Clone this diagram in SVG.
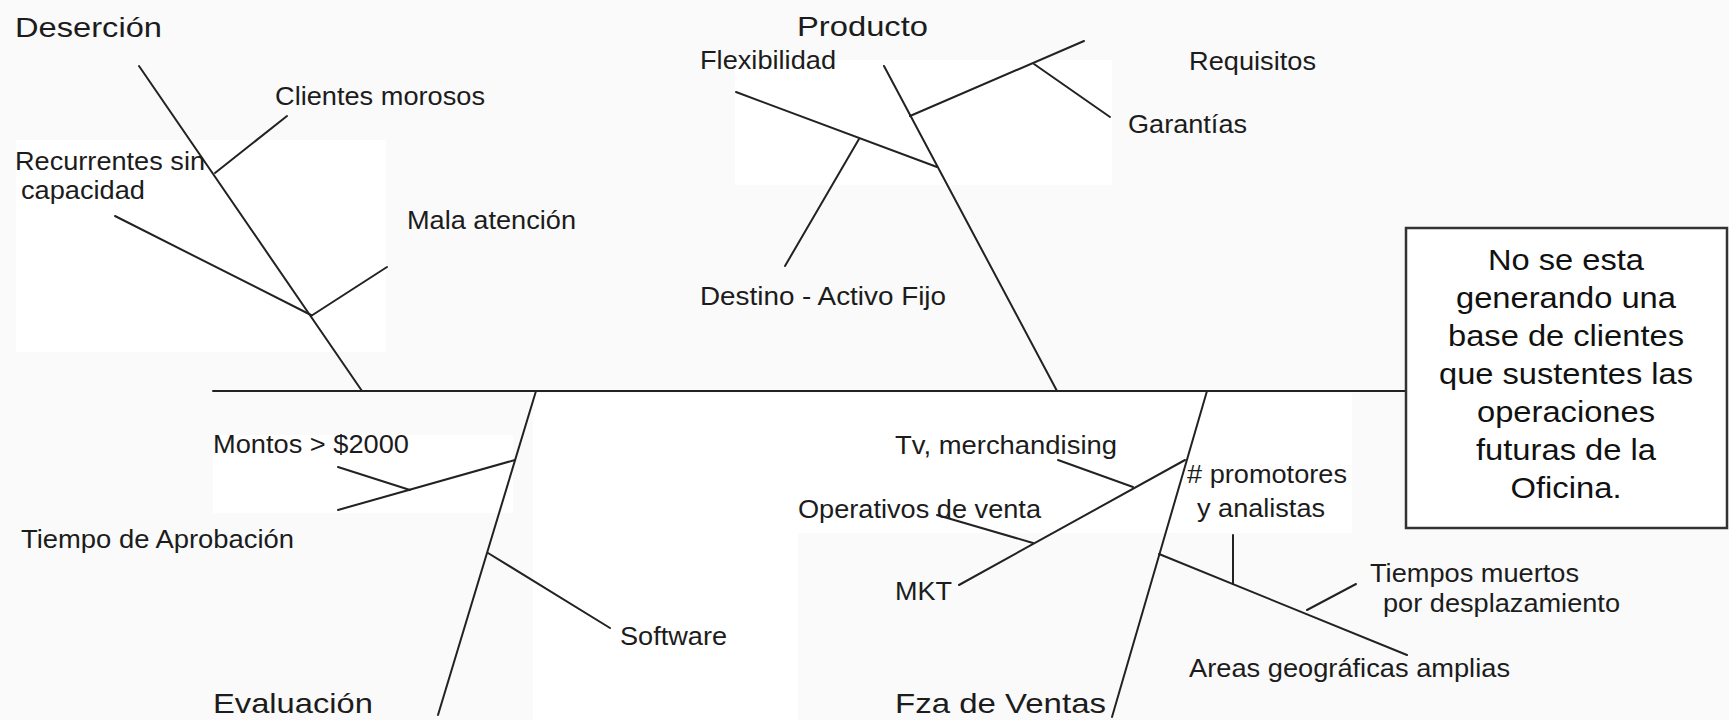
<svg xmlns="http://www.w3.org/2000/svg" width="1729" height="720" viewBox="0 0 1729 720">
<style>
  .bg{fill:#fafafa}
  .patch{fill:#ffffff}
  .bone{stroke:#222;stroke-width:2;fill:none;stroke-linecap:round}
  .lbl{font-family:"Liberation Sans",Arial,sans-serif;font-size:25px;fill:#1c1c1c}
  .ttl{font-family:"Liberation Sans",Arial,sans-serif;font-size:28px;fill:#1c1c1c}
  .eff{font-family:"Liberation Sans",Arial,sans-serif;font-size:29px;fill:#111;text-anchor:middle}
  .box{fill:#ffffff;stroke:#333;stroke-width:2.5}
</style>
<rect class="bg" x="0" y="0" width="1729" height="720"/>
<g id="background-patches">
  <rect class="patch" x="16" y="140" width="370" height="212"/>
  <rect class="patch" x="735" y="60" width="377" height="125"/>
  <rect class="patch" x="213" y="435" width="300" height="78"/>
  <rect class="patch" x="533" y="393" width="265" height="327"/>
  <rect class="patch" x="798" y="393" width="554" height="140"/>
</g>
<g id="connectors">
  <line id="spine" class="bone" x1="213" y1="391" x2="1406" y2="391"/>
  <!-- Desercion -->
  <line class="bone" x1="139" y1="66" x2="362" y2="391"/>
  <line class="bone" x1="215" y1="173" x2="287" y2="116"/>
  <line class="bone" x1="115" y1="216" x2="311" y2="315"/>
  <line class="bone" x1="311" y1="316" x2="387" y2="267"/>
  <!-- Producto -->
  <line class="bone" x1="884" y1="66" x2="1057" y2="391"/>
  <line class="bone" x1="910" y1="116" x2="1084" y2="41"/>
  <line class="bone" x1="1034" y1="64" x2="1110" y2="117"/>
  <line class="bone" x1="736" y1="92" x2="937" y2="167"/>
  <line class="bone" x1="859" y1="139" x2="785" y2="266"/>
  <!-- Evaluacion -->
  <line class="bone" x1="536" y1="391" x2="438" y2="715"/>
  <line class="bone" x1="338" y1="510" x2="515" y2="460"/>
  <line class="bone" x1="338" y1="467" x2="410" y2="490"/>
  <line class="bone" x1="488" y1="553" x2="610" y2="628"/>
  <!-- Fza de Ventas -->
  <line class="bone" x1="1207" y1="391" x2="1112" y2="717"/>
  <line class="bone" x1="959" y1="585" x2="1185" y2="460"/>
  <line class="bone" x1="1058" y1="460" x2="1133" y2="487"/>
  <line class="bone" x1="937" y1="515" x2="1033" y2="543"/>
  <line class="bone" x1="1159" y1="554" x2="1407" y2="655"/>
  <line class="bone" x1="1233" y1="535" x2="1233" y2="584"/>
  <line class="bone" x1="1307" y1="610" x2="1356" y2="584"/>
</g>
<g id="desercion">
  <text class="ttl" x="15" y="37" textLength="147" lengthAdjust="spacingAndGlyphs">Deserción</text>
  <text class="lbl" x="275" y="105" textLength="210" lengthAdjust="spacingAndGlyphs">Clientes morosos</text>
  <text class="lbl" x="15" y="170" textLength="190" lengthAdjust="spacingAndGlyphs">Recurrentes sin</text>
  <text class="lbl" x="21" y="199" textLength="124" lengthAdjust="spacingAndGlyphs">capacidad</text>
  <text class="lbl" x="407" y="229" textLength="169" lengthAdjust="spacingAndGlyphs">Mala atención</text>
</g>
<g id="producto">
  <text class="ttl" x="797" y="36" textLength="131" lengthAdjust="spacingAndGlyphs">Producto</text>
  <text class="lbl" x="700" y="69" textLength="136" lengthAdjust="spacingAndGlyphs">Flexibilidad</text>
  <text class="lbl" x="1189" y="70" textLength="127" lengthAdjust="spacingAndGlyphs">Requisitos</text>
  <text class="lbl" x="1128" y="133" textLength="119" lengthAdjust="spacingAndGlyphs">Garantías</text>
  <text class="lbl" x="700" y="305" textLength="246" lengthAdjust="spacingAndGlyphs">Destino - Activo Fijo</text>
</g>
<g id="evaluacion">
  <text class="ttl" x="213" y="713" textLength="160" lengthAdjust="spacingAndGlyphs">Evaluación</text>
  <text class="lbl" x="213" y="453" textLength="196" lengthAdjust="spacingAndGlyphs">Montos &gt; $2000</text>
  <text class="lbl" x="21" y="548" textLength="273" lengthAdjust="spacingAndGlyphs">Tiempo de Aprobación</text>
  <text class="lbl" x="620" y="645" textLength="107" lengthAdjust="spacingAndGlyphs">Software</text>
</g>
<g id="fza-de-ventas">
  <text class="ttl" x="895" y="713" textLength="211" lengthAdjust="spacingAndGlyphs">Fza de Ventas</text>
  <text class="lbl" x="895" y="454" textLength="222" lengthAdjust="spacingAndGlyphs">Tv, merchandising</text>
  <text class="lbl" x="798" y="518" textLength="243" lengthAdjust="spacingAndGlyphs">Operativos de venta</text>
  <text class="lbl" x="895" y="600" textLength="57" lengthAdjust="spacingAndGlyphs">MKT</text>
  <text class="lbl" x="1187" y="483" textLength="160" lengthAdjust="spacingAndGlyphs"># promotores</text>
  <text class="lbl" x="1197" y="517" textLength="128" lengthAdjust="spacingAndGlyphs">y analistas</text>
  <text class="lbl" x="1370" y="582" textLength="209" lengthAdjust="spacingAndGlyphs">Tiempos muertos</text>
  <text class="lbl" x="1383" y="612" textLength="237" lengthAdjust="spacingAndGlyphs">por desplazamiento</text>
  <text class="lbl" x="1189" y="677" textLength="321" lengthAdjust="spacingAndGlyphs">Areas geográficas amplias</text>
</g>
<g id="efecto">
  <rect class="box" x="1406" y="228" width="321" height="300"/>
  <text class="eff" x="1566" y="270" textLength="156" lengthAdjust="spacingAndGlyphs">No se esta</text>
  <text class="eff" x="1566" y="308" textLength="220" lengthAdjust="spacingAndGlyphs">generando una</text>
  <text class="eff" x="1566" y="346" textLength="236" lengthAdjust="spacingAndGlyphs">base de clientes</text>
  <text class="eff" x="1566" y="384" textLength="254" lengthAdjust="spacingAndGlyphs">que sustentes las</text>
  <text class="eff" x="1566" y="422" textLength="178" lengthAdjust="spacingAndGlyphs">operaciones</text>
  <text class="eff" x="1566" y="460" textLength="180" lengthAdjust="spacingAndGlyphs">futuras de la</text>
  <text class="eff" x="1566" y="498" textLength="111" lengthAdjust="spacingAndGlyphs">Oficina.</text>
</g>
</svg>
